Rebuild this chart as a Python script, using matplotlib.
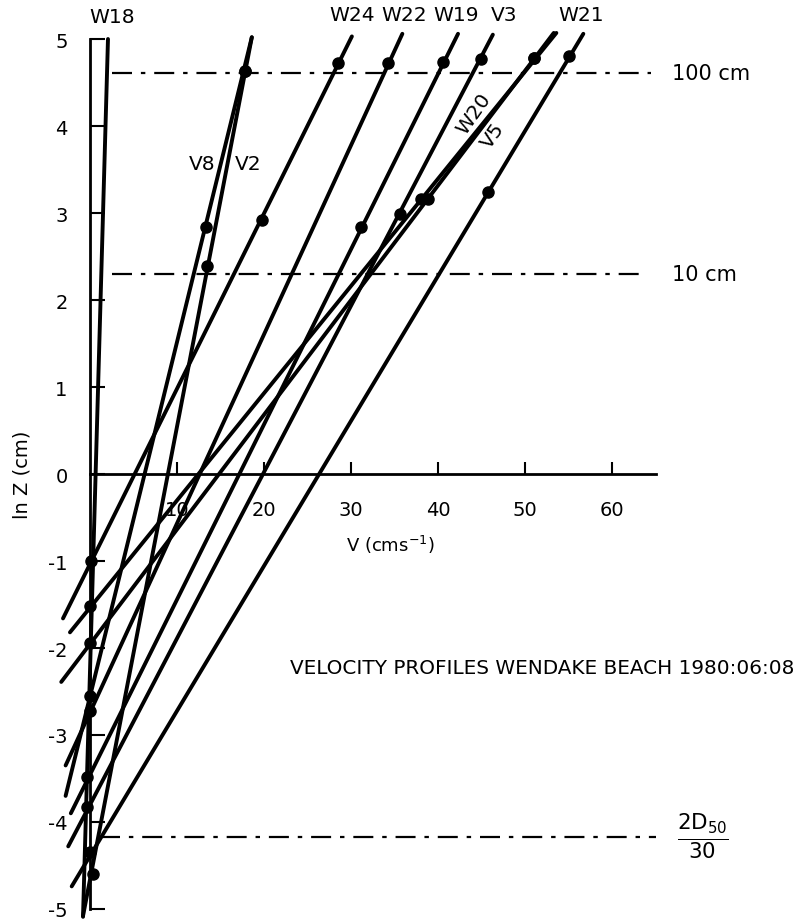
import numpy as np
import matplotlib
matplotlib.use("Agg")
import matplotlib.pyplot as plt

plt.rcParams["font.family"] = ["DejaVu Sans"]
plt.rcParams["mathtext.fontset"] = "dejavusans"
plt.rcParams["axes.unicode_minus"] = False

# profile lines: top end and lower-left end (V cm/s, ln Z cm)
names = ["W18", "V8", "V2", "W24", "W22", "W19", "V3", "W21", "W20", "V5"]
top_v = [2.07, 18.6, 18.6, 30.1, 35.9, 42.3, 46.3, 56.7, 53.3, 53.6]
top_lnz = [5.0, 5.02, 5.02, 5.03, 5.06, 5.06, 5.05, 5.06, 5.07, 5.07]
end_v = [-0.8, -2.8, -0.8, -3.1, -2.8, -2.2, -2.5, -2.1, -3.3, -2.3]
end_lnz = [-5.09, -3.70, -5.08, -1.66, -3.35, -3.90, -4.28, -4.74, -2.39, -1.82]

# measured points on each profile
dot_v = [[], [17.8, 13.3, 0.0], [17.8, 13.4, 0.3], [28.5, 19.8, 0.1], [34.3, 0.0],
         [40.6, 31.1, -0.3], [44.9, 35.6, -0.3], [55.1, 45.7, 0.0],
         [51.0, 38.9, 0.0], [51.0, 38.0, 0.0]]
dot_lnz = [[], [4.63, 2.84, -2.55], [4.63, 2.39, -4.6], [4.72, 2.92, -1.0], [4.72, -2.72],
           [4.74, 2.84, -3.48], [4.77, 2.99, -3.83], [4.80, 3.24, -4.34],
           [4.78, 3.16, -1.94], [4.78, 3.16, -1.52]]

# reference heights
ref_lnz = [np.log(100), np.log(10), -4.17]
ref_labels = ["100 cm", "10 cm", r"$\frac{2\mathrm{D}_{50}}{30}$"]

yticks = [-5, -4, -3, -2, -1, 0, 1, 2, 3, 4, 5]
ytick_labels = ["-5", "-4", "-3", "-2", "-1", "0", "1", "2", "3", "4", "5"]
xticks = [10, 20, 30, 40, 50, 60]

fig = plt.figure(figsize=(8, 9.2), dpi=100)
ax = fig.add_axes([0, 0, 1, 1])
ax.set_xlim(-10.34, 81.6)
ax.set_ylim(-5.115, 5.46)

for s in ("top", "right"):
    ax.spines[s].set_visible(False)
ax.spines["left"].set_position(("data", 0))
ax.spines["bottom"].set_position(("data", 0))
ax.spines["left"].set_bounds(-5, 5)
ax.spines["bottom"].set_bounds(0, 65)
ax.spines["left"].set_linewidth(2)
ax.spines["bottom"].set_linewidth(2)
ax.set_yticks(yticks)
ax.set_yticklabels(ytick_labels)
ax.set_xticks(xticks)
ax.tick_params(axis="y", direction="in", length=11, width=1.5, pad=16, labelsize=14)
ax.tick_params(axis="x", direction="in", length=9, width=1.5, pad=19, labelsize=14)

# dash-dot reference levels
ax.plot([2.5, 64.5], [ref_lnz[0]] * 2, color="k", lw=1.6, ls=(0, (9, 4, 2, 4)))
ax.plot([2.5, 63.4], [ref_lnz[1]] * 2, color="k", lw=1.6, ls=(0, (9, 4, 2, 4)))
ax.plot([1.2, 65.0], [ref_lnz[2]] * 2, color="k", lw=1.6, ls=(0, (9, 4, 2, 4)))
ax.text(66.9, ref_lnz[0], ref_labels[0], fontsize=15, va="center", ha="left")
ax.text(66.9, ref_lnz[1], ref_labels[1], fontsize=15, va="center", ha="left")
ax.text(70.5, ref_lnz[2], ref_labels[2], fontsize=22, va="center", ha="center")

for i, n in enumerate(names):
    ax.plot([end_v[i], top_v[i]], [end_lnz[i], top_lnz[i]], color="k", lw=2.8,
            solid_capstyle="round")
    if dot_v[i]:
        ax.plot(dot_v[i], dot_lnz[i], "o", color="k", ms=8)

# profile labels
ax.text(2.6, 5.26, "W18", fontsize=14.5, ha="center", va="center")
ax.text(30.1, 5.28, "W24", fontsize=14.5, ha="center", va="center")
ax.text(36.1, 5.28, "W22", fontsize=14.5, ha="center", va="center")
ax.text(42.1, 5.28, "W19", fontsize=14.5, ha="center", va="center")
ax.text(47.6, 5.28, "V3", fontsize=14.5, ha="center", va="center")
ax.text(56.4, 5.28, "W21", fontsize=14.5, ha="center", va="center")
ax.text(12.9, 3.57, "V8", fontsize=14.5, ha="center", va="center")
ax.text(18.2, 3.57, "V2", fontsize=14.5, ha="center", va="center")
ax.text(44.1, 4.15, "W20", fontsize=14.5, ha="center", va="center", rotation=55)
ax.text(46.3, 3.90, "V5", fontsize=14.5, ha="center", va="center", rotation=55)

ax.text(34.5, -0.80, "V (cms$^{-1}$)", fontsize=13, ha="center", va="center")
ax.text(-7.8, 0.0, "ln Z (cm)", fontsize=14, ha="center", va="center", rotation=90)
ax.text(23.0, -2.22, "VELOCITY PROFILES WENDAKE BEACH 1980:06:08", fontsize=14.4,
        ha="left", va="center")

fig.savefig("out.png", dpi=100)
print("saved out.png")
